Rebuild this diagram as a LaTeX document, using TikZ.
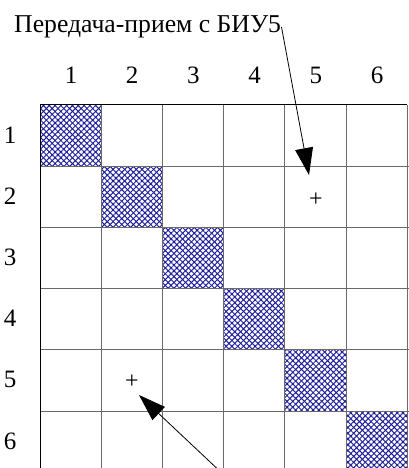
\documentclass[tikz,border=0pt]{standalone}
\usepackage{fontspec}
\setmainfont{Liberation Serif}
\usetikzlibrary{arrows.meta,patterns.meta}
\definecolor{hatchblue}{RGB}{30,30,155}
\definecolor{gridgray}{RGB}{105,105,105}
\tikzset{
  lbl/.style={font=\fontsize{25}{30}\selectfont, inner sep=0pt},
  titletext/.style={font=\fontsize{25.7}{30}\selectfont, inner sep=0pt},
  plusmark/.style={font=\fontsize{24}{28}\selectfont, inner sep=0pt},
  hatchcell/.style={pattern={Lines[angle=45,distance=4.1pt,line width=1pt]}, pattern color=hatchblue},
  hatchcellb/.style={pattern={Lines[angle=-45,distance=4.1pt,line width=1pt]}, pattern color=hatchblue},
  gridline/.style={draw=gridgray, line width=1pt},
  pointer/.style={draw=black, line width=0.8pt, -{Triangle[length=27pt,width=18pt]}}
}
\begin{document}
\begin{tikzpicture}[x=1pt,y=-1pt]
\useasboundingbox (0,0) rectangle (409,468);
\begin{scope}
\clip (0,0) rectangle (409,468);
% hatched diagonal cells
\foreach \i in {0,...,5}{
  \fill[hatchcell] (40+61.2*\i,105+61.2*\i) rectangle ++(61.2,61.2);
  \fill[hatchcellb] (40+61.2*\i,105+61.2*\i) rectangle ++(61.2,61.2);
}
% grid
\foreach \i in {1,...,6}{
  \draw[gridline] (40+61.2*\i,105) -- (40+61.2*\i,480);
  \draw[gridline] (40,105+61.2*\i) -- (409,105+61.2*\i);
}
\draw[black, line width=1pt] (40,480) -- (40,105) -- (407.2,105);
\end{scope}
% title
\node[titletext, anchor=base west] (title) at (14,32.7) {Передача-прием с БИУ5};
% column labels
\foreach \c [count=\k from 0] in {1,...,6}{
  \node[lbl, anchor=base] (col\c) at (71+61.2*\k,83.3) {\c};
}
% row labels
\foreach \r [count=\k from 0] in {1,...,6}{
  \node[lbl, anchor=base] (row\r) at (10,143+61.2*\k) {\r};
}
% plus marks
\node[plusmark] (plusA) at (316,200) {+};
\node[plusmark] (plusB) at (132,382) {+};
% arrows
\coordinate (a1s) at (281.5,27);
\coordinate (a1e) at (309,175);
\coordinate (a2s) at (225,476);
\coordinate (a2e) at (139,395);
\draw[pointer] (a1s) -- (a1e);
\draw[pointer] (a2s) -- (a2e);
\end{tikzpicture}
\end{document}
